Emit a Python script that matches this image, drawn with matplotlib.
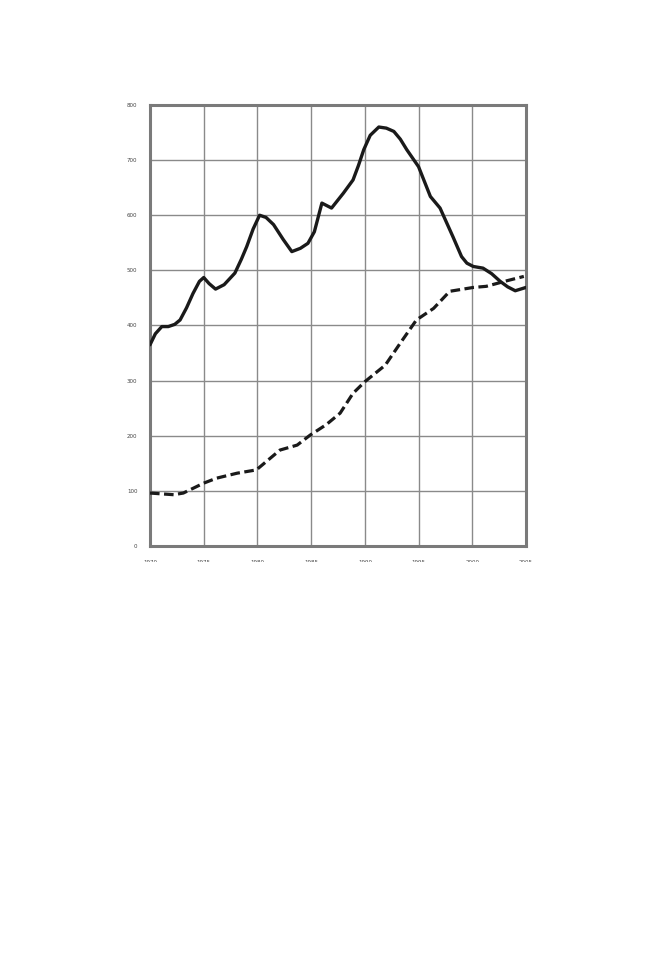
import matplotlib.pyplot as plt
from matplotlib.patches import Rectangle

# solid series (years, values)
solid_years = [1970, 1970.5, 1971.1, 1971.7, 1972.3, 1972.8, 1973.4, 1974.0, 1974.6, 1975.0,
               1975.5, 1976.1, 1976.9, 1977.9, 1978.5, 1979.0, 1979.6, 1980.2, 1980.8,
               1981.5, 1982.4, 1983.2, 1984.0, 1984.7, 1985.3, 1986.0, 1986.9, 1988.0,
               1988.9, 1989.4, 1989.9, 1990.5, 1991.3, 1992.0, 1992.7, 1993.3, 1993.9,
               1995.0, 1996.1, 1997.0, 1998.2, 1999.0, 1999.5, 2000.1, 2001.0, 2001.8,
               2002.6, 2003.3, 2004.0, 2005.0]
solid_vals = [365, 385, 398, 398, 402, 410, 432, 458, 480, 487,
              476, 466, 474, 495, 520, 543, 575, 600, 596,
              583, 556, 534, 540, 549, 570, 622, 613, 640,
              664, 690, 719, 745, 760, 758, 752, 738, 719,
              688, 634, 613, 561, 525, 513, 507, 504, 494,
              480, 470, 463, 469]

# dashed series
dash_years = [1970, 1972.2, 1973.1, 1975.0, 1976.2, 1978.1, 1979.9, 1982.1, 1983.7, 1984.9,
              1986.4, 1987.7, 1988.9, 1990.0, 1991.9, 1993.3, 1994.8, 1996.4, 1997.9,
              2000.1, 2001.3, 2003.2, 2004.8]
dash_vals = [96, 93, 96, 114, 123, 132, 138, 174, 183, 201,
             220, 241, 277, 298, 328, 368, 410, 431, 462,
             469, 471, 481, 489]

x_ticks = [1970, 1975, 1980, 1985, 1990, 1995, 2000, 2005]
y_ticks = [0, 100, 200, 300, 400, 500, 600, 700, 800]

fig = plt.figure(figsize=(6.48, 9.72), dpi=100)
ax = fig.add_axes([0.2315, 0.4383, 0.5802, 0.4537])

ax.plot(solid_years, solid_vals, color='#1a1a1a', lw=2.4, solid_joinstyle='round',
        solid_capstyle='round', zorder=3)
ax.plot(dash_years, dash_vals, color='#1a1a1a', lw=2.3, dashes=(3.0, 1.4),
        dash_joinstyle='round', zorder=3)

ax.set_xlim(1970, 2005)
ax.set_ylim(0, 800)
ax.set_xticks(x_ticks)
ax.set_yticks(y_ticks)
ax.grid(True, color='#8a8a8a', lw=1.0)
ax.set_axisbelow(True)
for s in ax.spines.values():
    s.set_color('#7a7a7a')
    s.set_linewidth(2.2)
ax.tick_params(length=0, labelsize=4, colors='#444444', pad=9)
ax.tick_params(axis='x', pad=10)

# bottom of the x labels is cut off in the source image
fig.patches.append(Rectangle((0, 0), 1, 1 - 562 / 972, transform=fig.transFigure,
                             facecolor='white', edgecolor='none', zorder=10))

fig.savefig('out.png', dpi=100, facecolor='white')
